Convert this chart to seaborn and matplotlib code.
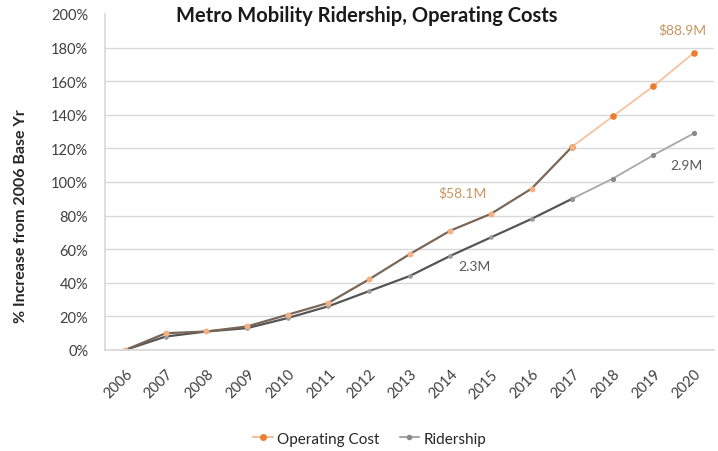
import matplotlib
matplotlib.use("Agg")
import matplotlib.pyplot as plt
import seaborn as sns
import pandas as pd
from matplotlib.lines import Line2D

years = [2006, 2007, 2008, 2009, 2010, 2011, 2012, 2013, 2014, 2015, 2016, 2017, 2018, 2019, 2020]
operating_cost = [0, 10, 11, 14, 21, 28, 42, 57, 71, 81, 96, 121, 139, 157, 177]
ridership = [0, 8, 11, 13, 19, 26, 35, 44, 56, 67, 78, 90, 102, 116, 129]
last_actual_year = 2017
y_ticks = [0, 20, 40, 60, 80, 100, 120, 140, 160, 180, 200]

df = pd.DataFrame({"year": years, "Operating Cost": operating_cost, "Ridership": ridership})
actual = df[df.year <= last_actual_year]
proj = df[df.year >= last_actual_year]

sns.set_theme(style="white")
plt.rcParams["font.family"] = ["Lato", "DejaVu Sans"]

fig = plt.figure(figsize=(7.18, 4.52), dpi=100)
ax = fig.add_axes([0.146, 0.2235, 0.849, 0.7435])

orange = "#ED7D31"
light_orange = "#F6C29E"
dark_cost_line = "#7A6657"
dark_gray = "#555555"
light_gray = "#A8A8A8"

# projected segments
sns.lineplot(data=proj, x="year", y="Ridership", ax=ax, color=light_gray, lw=1.3,
             marker="o", markersize=3, markerfacecolor="#8a8a8a", markeredgecolor="#8a8a8a")
sns.lineplot(data=proj, x="year", y="Operating Cost", ax=ax, color=light_orange, lw=1.3,
             marker="o", markersize=4, markerfacecolor=orange, markeredgecolor=orange)
# actual segments
sns.lineplot(data=actual, x="year", y="Ridership", ax=ax, color=dark_gray, lw=1.6,
             marker="o", markersize=2.5, markerfacecolor="#999999", markeredgecolor="#999999")
sns.lineplot(data=actual, x="year", y="Operating Cost", ax=ax, color=dark_cost_line, lw=1.6,
             marker="o", markersize=3.5, markerfacecolor="#F4B183", markeredgecolor="#F4B183")

ax.set_xlim(2005.5, 2020.5)
ax.set_ylim(0, 200)
ax.set_xticks(years)
ax.set_xticklabels([str(y) for y in years], rotation=45, ha="right", rotation_mode="anchor",
                   fontsize=10.5, color="#404040")
ax.set_yticks(y_ticks)
ax.set_yticklabels([f"{t}%" for t in y_ticks], fontsize=10.5, color="#404040")
ax.tick_params(axis="both", length=0)
ax.tick_params(axis="x", pad=12)
ax.tick_params(axis="y", pad=12)
ax.set_xlabel("")
ax.set_ylabel("% Increase from 2006 Base Yr", fontsize=11.5, fontweight="bold", color="#262626")
ax.yaxis.set_label_coords(-0.126, 0.40)

ax.yaxis.grid(True, color="#D9D9D9", lw=1.0)
ax.set_axisbelow(True)
ax.get_ygridlines()[-1].set_visible(False)
for s in ["top", "right"]:
    ax.spines[s].set_visible(False)
ax.spines["left"].set_color("#D9D9D9")
ax.spines["bottom"].set_color("#D9D9D9")

fig.text(0.511, 0.965, "Metro Mobility Ridership, Operating Costs", ha="center", va="center",
         fontsize=14.5, fontweight="bold", color="#1a1a1a")

ax.text(2014.3, 94, "$58.1M", color="#C9955F", fontsize=10, ha="center", va="center")
ax.text(2014.6, 50, "2.3M", color="#595959", fontsize=10, ha="center", va="center")
ax.text(2019.7, 191, "$88.9M", color="#C9955F", fontsize=10, ha="center", va="center")
ax.text(2019.8, 110, "2.9M", color="#595959", fontsize=10, ha="center", va="center")

handles = [Line2D([], [], color=light_orange, lw=1.5, marker="o", markersize=4,
                  markerfacecolor=orange, markeredgecolor=orange),
           Line2D([], [], color=light_gray, lw=1.5, marker="o", markersize=3,
                  markerfacecolor="#8a8a8a", markeredgecolor="#8a8a8a")]
fig.legend(handles, ["Operating Cost", "Ridership"], loc="center", bbox_to_anchor=(0.515, 0.027),
           ncol=2, frameon=False, fontsize=11, handlelength=1.3, handletextpad=0.3, columnspacing=1.3)

fig.savefig("out.png", dpi=100)
